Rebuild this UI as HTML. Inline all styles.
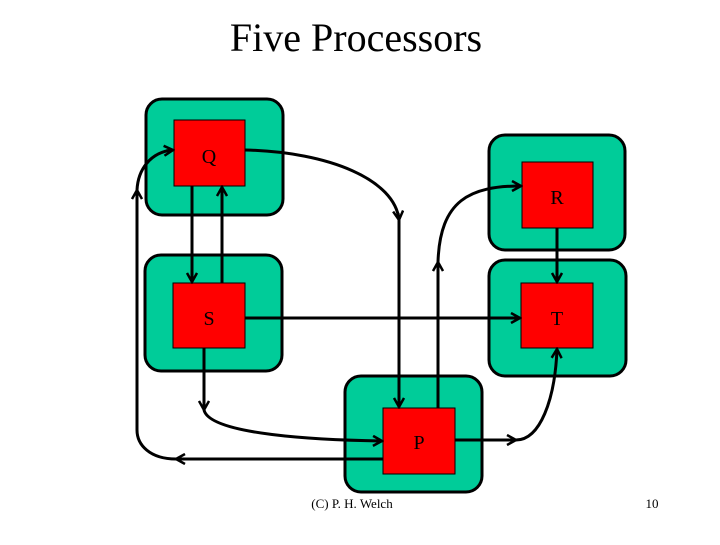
<!DOCTYPE html>
<html><head><style>
body{margin:0;width:720px;height:540px;background:#fff;overflow:hidden;font-family:"Liberation Serif",serif;}
</style></head><body>
<svg width="720" height="540" xmlns="http://www.w3.org/2000/svg">
<defs>
<marker id="a" markerWidth="12" markerHeight="12" refX="10" refY="6" orient="auto" markerUnits="userSpaceOnUse">
<path d="M1,1 L10,6 L1,11 M10,6 L3,6" fill="none" stroke="#000" stroke-width="2.5"/>
</marker>
</defs>
<text x="356" y="51" font-size="40" text-anchor="middle" font-family="Liberation Serif">Five Processors</text>
<g fill="#00cc99" stroke="#000" stroke-width="3">
<rect x="146" y="99" width="137" height="116" rx="16"/>
<rect x="489" y="135" width="136" height="115" rx="16"/>
<rect x="145" y="255" width="137" height="116" rx="16"/>
<rect x="489" y="260" width="137" height="116" rx="16"/>
<rect x="345" y="376" width="137" height="116" rx="16"/>
</g>
<g fill="#ff0000" stroke="#000" stroke-width="1">
<rect x="174" y="120" width="71" height="66"/>
<rect x="522" y="162" width="71" height="66"/>
<rect x="173" y="283" width="72" height="65"/>
<rect x="521" y="283" width="72" height="65"/>
<rect x="383" y="408" width="72" height="66"/>
</g>
<g font-size="20" text-anchor="middle" fill="#000">
<text x="209" y="163">Q</text>
<text x="557" y="204">R</text>
<text x="209" y="325">S</text>
<text x="557" y="325">T</text>
<text x="419" y="449">P</text>
</g>
<g fill="none" stroke="#000" stroke-width="3">
<path d="M192,186 L192,282" marker-end="url(#a)"/>
<path d="M222,283 L222,187" marker-end="url(#a)"/>
<path d="M245,150 C330,152 395,180 399,220" marker-end="url(#a)"/>
<path d="M399,220 L399,407" marker-end="url(#a)"/>
<path d="M438,408 L438,262" marker-end="url(#a)"/>
<path d="M438,262 C440,200 470,186 521,186" marker-end="url(#a)"/>
<path d="M557,228 L557,282" marker-end="url(#a)"/>
<path d="M245,318 L520,318" marker-end="url(#a)"/>
<path d="M204,348 L204,410" marker-end="url(#a)"/>
<path d="M204,410 C210,435 320,440 382,441" marker-end="url(#a)"/>
<path d="M455,440 L516,440" marker-end="url(#a)"/>
<path d="M516,440 C540,440 555,400 557,349" marker-end="url(#a)"/>
<path d="M383,459 L176,459" marker-end="url(#a)"/>
<path d="M176,459 C150,459 137,445 137,430 L137,190" marker-end="url(#a)"/>
<path d="M137,190 C138,170 150,152 173,150" marker-end="url(#a)"/>
</g>
<text x="352" y="508" font-size="13" text-anchor="middle">(C) P. H. Welch</text>
<text x="652" y="508" font-size="13" text-anchor="middle">10</text>
</svg>
</body></html>
